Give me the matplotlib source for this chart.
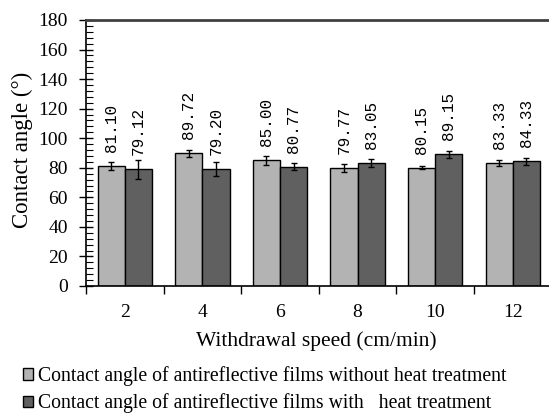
import matplotlib
matplotlib.use("Agg")
import matplotlib.pyplot as plt
import numpy as np
from matplotlib.ticker import MultipleLocator, FixedLocator, NullFormatter

speeds = ["2", "4", "6", "8", "10", "12"]
without_heat = [81.10, 89.72, 85.00, 79.77, 80.15, 83.33]
with_heat = [79.12, 79.20, 80.77, 83.05, 89.15, 84.33]
err_without = [2.6, 2.3, 3.0, 2.8, 1.3, 1.8]
err_with = [6.4, 4.8, 2.6, 2.8, 2.2, 2.5]
label_without = "Contact angle of antireflective films without heat treatment"
label_with = "Contact angle of antireflective films with   heat treatment"

serif = ["Liberation Serif", "DejaVu Serif"]

fig = plt.figure(figsize=(5.49, 4.13), dpi=100)
ax = fig.add_axes([86/549, 1-286/413, (551.6-86)/549, 266/413])

x = np.arange(len(speeds)) + 0.5
w = 0.35
light = "#b3b3b3"
dark = "#606060"
b1 = ax.bar(x - w/2, without_heat, w, color=light, edgecolor="black", linewidth=1.0,
            yerr=err_without, error_kw=dict(ecolor="black", elinewidth=1.0, capsize=2.5, capthick=1.0),
            label=label_without)
b2 = ax.bar(x + w/2, with_heat, w, color=dark, edgecolor="black", linewidth=1.0,
            yerr=err_with, error_kw=dict(ecolor="black", elinewidth=1.0, capsize=2.5, capthick=1.0),
            label=label_with)

for xi, v in zip(x - w/2, without_heat):
    ax.text(xi, v + 9.5, f"{v:.2f}", rotation=90, ha="center", va="bottom",
            fontsize=11.5, family=["Liberation Mono", "DejaVu Sans Mono"])
for xi, v in zip(x + w/2, with_heat):
    ax.text(xi, v + 9.5, f"{v:.2f}", rotation=90, ha="center", va="bottom",
            fontsize=11.5, family=["Liberation Mono", "DejaVu Sans Mono"])

ax.set_xlim(0, len(speeds))
ax.set_ylim(0, 180)

ax.yaxis.set_major_locator(MultipleLocator(20))
ax.yaxis.set_minor_locator(MultipleLocator(4))
ax.tick_params(axis="y", which="major", direction="inout", length=10, width=1.0, pad=8,
               labelsize=14)
ax.tick_params(axis="y", which="minor", direction="in", length=5, width=0.8)
for lbl in ax.get_yticklabels():
    lbl.set_family(serif)

ax.xaxis.set_major_locator(FixedLocator(np.arange(0, len(speeds) + 1)))
ax.xaxis.set_major_formatter(NullFormatter())
ax.xaxis.set_minor_locator(FixedLocator(x))
ax.set_xticklabels(speeds, minor=True)
ax.tick_params(axis="x", which="major", direction="out", length=6, width=1.0)
ax.tick_params(axis="x", which="minor", length=0, pad=13, labelsize=14)
for lbl in ax.get_xticklabels(minor=True):
    lbl.set_family(serif)

ax.spines["right"].set_visible(False)
ax.spines["top"].set_color("#404040")
ax.spines["top"].set_linewidth(2.0)
ax.spines["left"].set_linewidth(1.2)
ax.spines["bottom"].set_linewidth(1.2)

fig.text(22/549, 1-150/413, "Contact angle (°)", rotation=90, ha="center", va="center",
         fontsize=16.5, family=serif)
fig.text(316/549, 1-341/413, "Withdrawal speed (cm/min)", ha="center", va="center",
         fontsize=15.5, family=serif)

leg = fig.legend(handles=[b1, b2], loc="upper left", bbox_to_anchor=(23/549, 1-366/413),
                 frameon=False, prop=dict(family=serif, size=14.2),
                 handlelength=0.5, handleheight=0.5, handletextpad=0.25,
                 labelspacing=0.38, borderaxespad=0, borderpad=0)

fig.savefig("out.png", dpi=100)
